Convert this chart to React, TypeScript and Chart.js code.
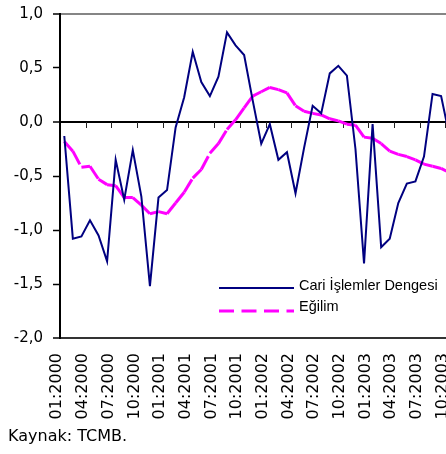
import React, { useEffect, useRef } from 'react';
import { Chart, registerables } from 'chart.js';

Chart.register(...registerables);

const months: string[] = [
  '01:2000', '02:2000', '03:2000', '04:2000', '05:2000', '06:2000', '07:2000', '08:2000', '09:2000', '10:2000', '11:2000', '12:2000',
  '01:2001', '02:2001', '03:2001', '04:2001', '05:2001', '06:2001', '07:2001', '08:2001', '09:2001', '10:2001', '11:2001', '12:2001',
  '01:2002', '02:2002', '03:2002', '04:2002', '05:2002', '06:2002', '07:2002', '08:2002', '09:2002', '10:2002', '11:2002', '12:2002',
  '01:2003', '02:2003', '03:2003', '04:2003', '05:2003', '06:2003', '07:2003', '08:2003', '09:2003', '10:2003', '11:2003', '12:2003',
];

const currentAccount: (number | null)[] = [
  -0.13, -1.08, -1.06, -0.91, -1.05, -1.29, -0.35, -0.72, -0.26, -0.69, -1.52, -0.70,
  -0.63, -0.05, 0.23, 0.65, 0.37, 0.24, 0.42, 0.83, 0.71, 0.62, 0.20, -0.20,
  -0.02, -0.35, -0.28, -0.66, -0.24, 0.15, 0.08, 0.45, 0.52, 0.43, -0.25, -1.31,
  -0.02, -1.16, -1.08, -0.75, -0.57, -0.55, -0.32, 0.26, 0.24, -0.14, null, null,
];

const trend: (number | null)[] = [
  -0.18, -0.27, -0.42, -0.41, -0.53, -0.58, -0.59, -0.70, -0.70, -0.77, -0.85, -0.83,
  -0.85, -0.75, -0.65, -0.52, -0.44, -0.29, -0.20, -0.07, 0.02, 0.13, 0.24, 0.28,
  0.32, 0.30, 0.27, 0.15, 0.10, 0.08, 0.065, 0.03, 0.01, -0.02, -0.03, -0.14,
  -0.15, -0.20, -0.27, -0.30, -0.32, -0.35, -0.39, -0.41, -0.43, -0.47, null, null,
];

const seriesNames = ['Cari İşlemler Dengesi', 'Eğilim'];
const sourceNote = 'Kaynak: TCMB.';

const NAVY = '#000080';
const MAGENTA = '#ff00ff';
const FONT = "'DejaVu Sans', Verdana, sans-serif";
const LEGEND_FONT = "'Liberation Sans', Arial, sans-serif";

export default function App() {
  const ref = useRef<HTMLCanvasElement>(null);

  useEffect(() => {
    const canvas = ref.current;
    if (!canvas) return;

    const zeroAxis = {
      id: 'zeroAxis',
      beforeDatasetsDraw(chart: any) {
        const { ctx, scales } = chart;
        const x = scales.x;
        const y = scales.y;
        const y0 = Math.round(y.getPixelForValue(0));
        const half = (x.getPixelForValue(1) - x.getPixelForValue(0)) / 2;
        ctx.save();
        ctx.strokeStyle = '#222';
        ctx.lineWidth = 1;
        for (let i = 3; i < months.length; i += 3) {
          const px = Math.round(x.getPixelForValue(i) - half) + 0.5;
          ctx.beginPath();
          ctx.moveTo(px, y0);
          ctx.lineTo(px, y0 + 6);
          ctx.stroke();
        }
        ctx.restore();
      },
    };

    const customLegend = {
      id: 'customLegend',
      afterDraw(chart: any) {
        const { ctx } = chart;
        const x1 = 219;
        const x2 = 294;
        const tx = 299;
        ctx.save();
        ctx.lineCap = 'butt';
        ctx.strokeStyle = NAVY;
        ctx.lineWidth = 2;
        ctx.beginPath();
        ctx.moveTo(x1, 288);
        ctx.lineTo(x2, 288);
        ctx.stroke();
        ctx.strokeStyle = MAGENTA;
        ctx.lineWidth = 3;
        ctx.setLineDash([15, 7.5]);
        ctx.beginPath();
        ctx.moveTo(x1, 311);
        ctx.lineTo(x2, 311);
        ctx.stroke();
        ctx.setLineDash([]);
        ctx.fillStyle = '#000';
        ctx.font = `14.5px ${LEGEND_FONT}`;
        ctx.textBaseline = 'middle';
        ctx.textAlign = 'left';
        ctx.fillText(seriesNames[0], tx, 286);
        ctx.fillText(seriesNames[1], tx, 307);
        ctx.restore();
      },
    };

    const chart = new Chart(canvas, {
      type: 'line',
      data: {
        labels: months,
        datasets: [
          {
            label: seriesNames[0],
            data: currentAccount,
            borderColor: NAVY,
            backgroundColor: NAVY,
            borderWidth: 2,
            pointRadius: 0,
            tension: 0,
            fill: false,
          },
          {
            label: seriesNames[1],
            data: trend,
            borderColor: MAGENTA,
            backgroundColor: MAGENTA,
            borderWidth: 3,
            borderDash: [15, 7.5],
            pointRadius: 0,
            tension: 0,
            fill: false,
            segment: {
              borderDashOffset: (c: any) => (c.p0DataIndex % 2 ? 0.0001 : 0),
            },
          },
        ],
      },
      options: {
        animation: false,
        responsive: false,
        maintainAspectRatio: false,
        devicePixelRatio: 1,
        layout: { padding: { left: 0, right: 0, top: 14, bottom: 8 } },
        plugins: {
          legend: { display: false },
          tooltip: { enabled: false },
        },
        scales: {
          x: {
            type: 'category',
            offset: true,
            grid: { display: false, drawTicks: false },
            border: { display: false },
            ticks: {
              autoSkip: false,
              minRotation: 90,
              maxRotation: 90,
              padding: 15,
              labelOffset: -7,
              color: '#000',
              font: { family: FONT, size: 16 },
              callback: (_v: any, i: number) => (i % 3 === 0 ? months[i] : ''),
            },
            afterFit: (s: any) => {
              s.height = 82;
            },
          },
          y: {
            min: -2,
            max: 1,
            border: { display: true, color: '#000', width: 2 },
            grid: {
              drawTicks: true,
              tickLength: 7,
              tickWidth: 1.5,
              tickColor: '#000',
              color: (c: any) => {
                const v = c.tick && c.tick.value;
                if (v === 1) return '#858585';
                if (v === 0) return '#000';
                if (v === -2) return '#333';
                return 'rgba(0,0,0,0)';
              },
              lineWidth: (c: any) => {
                const v = c.tick && c.tick.value;
                return v === 1 || v === 0 || v === -2 ? 2 : 1;
              },
            },
            ticks: {
              stepSize: 0.5,
              padding: 10,
              color: '#000',
              font: { family: FONT, size: 15 },
              callback: (v: any) => Number(v).toFixed(1).replace('.', ','),
            },
            afterFit: (s: any) => {
              s.width = 60;
              s.paddingTop = 0;
              s.paddingBottom = 0;
            },
          },
        },
      },
      plugins: [zeroAxis, customLegend],
    });

    return () => chart.destroy();
  }, []);

  return (
    <div
      style={{
        position: 'fixed',
        left: 0,
        top: 0,
        width: 446,
        height: 454,
        overflow: 'hidden',
        background: '#fff',
      }}
    >
      <canvas ref={ref} width={501} height={428} style={{ position: 'absolute', left: 0, top: 0, width: 501, height: 428 }} />
      <div
        style={{
          position: 'absolute',
          left: 8,
          top: 427,
          fontFamily: FONT,
          fontSize: '16px',
          color: '#000',
          whiteSpace: 'nowrap',
          lineHeight: '18px',
        }}
      >
        {sourceNote}
      </div>
    </div>
  );
}
